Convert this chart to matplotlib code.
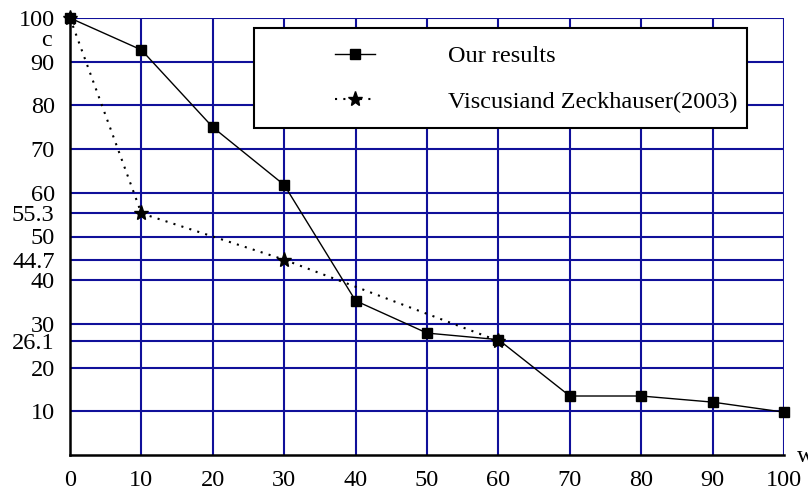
import matplotlib
matplotlib.use("Agg")
import matplotlib.pyplot as plt
from matplotlib.patches import Rectangle

# data
w_ours = [0, 10, 20, 30, 40, 50, 60, 70, 80, 90, 100]
c_ours = [100, 92.7, 75.0, 61.8, 35.3, 27.9, 26.4, 13.5, 13.5, 12.1, 9.8]
w_vz = [0, 10, 30, 60]
c_vz = [100, 55.3, 44.7, 26.1]
xticks = [0, 10, 20, 30, 40, 50, 60, 70, 80, 90, 100]
yticks = [10, 20, 26.1, 30, 40, 44.7, 50, 55.3, 60, 70, 80, 90, 100]
ytick_labels = ["10", "20", "26.1", "30", "40", "44.7", "50", "55.3", "60", "70", "80", "90", "100"]
labels = ["Our results", "Viscusiand Zeckhauser(2003)"]

plt.rcParams['font.family'] = ['Liberation Serif', 'DejaVu Serif']
FS = 17.5
grid_color = '#10109a'

fig = plt.figure(figsize=(8.08, 4.93), dpi=100)
W, H = 808, 493
x0, x1 = 70, 784
y0, y1 = 455, 18
ax = fig.add_axes([x0 / W, 1 - y0 / H, (x1 - x0) / W, (y0 - y1) / H])
ax.set_xlim(0, 100)
ax.set_ylim(0, 100)

for xv in xticks[1:]:
    ax.axvline(xv, color=grid_color, lw=1.5, zorder=1)
for yv in yticks:
    ax.axhline(yv, color=grid_color, lw=1.5, zorder=1)

l1, = ax.plot(w_ours, c_ours, color='black', lw=1.0, marker='s', markersize=7.5,
              markerfacecolor='black', markeredgecolor='black', zorder=4, clip_on=False,
              label=labels[0])
l2, = ax.plot(w_vz, c_vz, color='black', lw=1.5, linestyle=(0, (1, 3)), marker='*',
              markersize=11, markerfacecolor='black', markeredgecolor='black', zorder=4,
              clip_on=False, label=labels[1])

ax.set_xticks(xticks)
ax.set_xticklabels([str(v) for v in xticks], fontsize=FS)
ax.set_yticks(yticks)
ax.set_yticklabels(ytick_labels, fontsize=FS)
ax.tick_params(axis='both', length=0)
ax.tick_params(axis='y', pad=11)
ax.tick_params(axis='x', pad=11)

for s in ['top', 'right']:
    ax.spines[s].set_visible(False)
for s in ['left', 'bottom']:
    ax.spines[s].set_linewidth(1.8)
    ax.spines[s].set_color('black')
    ax.spines[s].set_zorder(3)

# axis letters
fig.text(47 / W, 1 - 41 / H, 'c', fontsize=FS, ha='center', va='center')
fig.text(797 / W, 1 - 457 / H, 'w', fontsize=FS, ha='left', va='center')

# legend frame
bx0, bx1, by0, by1 = 254, 747, 28, 128
ax.add_patch(Rectangle(((bx0 - x0) / (x1 - x0), (y0 - by1) / (y0 - y1)),
                       (bx1 - bx0) / (x1 - x0), (by1 - by0) / (y0 - y1),
                       transform=ax.transAxes, facecolor='white', edgecolor='black',
                       lw=1.5, zorder=5, clip_on=False))
leg = ax.legend(handles=[l1, l2], loc='upper left', frameon=False, fontsize=FS,
                bbox_to_anchor=(335 / W, 1 - 45 / H), bbox_transform=fig.transFigure,
                handlelength=1.65, handletextpad=3.0, borderpad=0, borderaxespad=0,
                labelspacing=0.97, numpoints=1)
leg.set_zorder(6)

fig.savefig('out.png', dpi=100)
